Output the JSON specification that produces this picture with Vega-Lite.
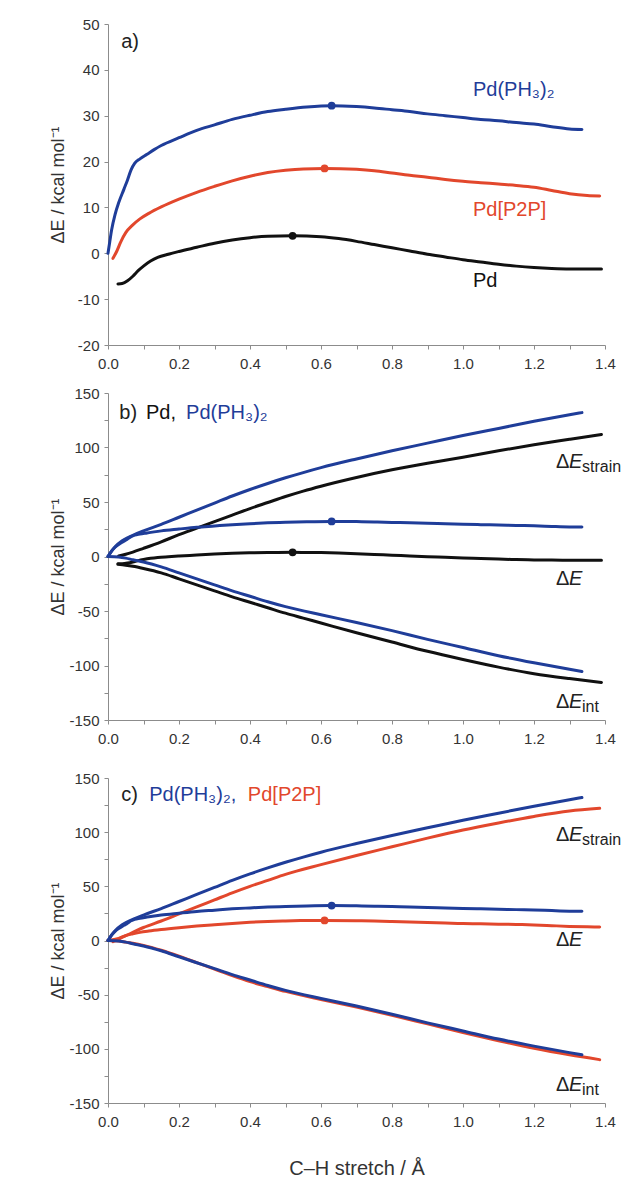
{
"$schema": "https://vega.github.io/schema/vega-lite/v6.json",
"padding": {"left": 49, "top": 17, "right": 2, "bottom": 0},
"config": {
 "view": {"stroke": null},
 "font": "Liberation Sans",
 "axis": {"grid": false, "domainColor": "#8c8c8c", "tickColor": "#8c8c8c", "tickSize": 4, "labelFontSize": 15, "labelColor": "#333333", "labelFont": "Liberation Sans", "titleFont": "Liberation Sans", "titleFontSize": 18, "titleFontWeight": "normal", "titleColor": "#333333", "labelOverlap": false},
 "axisX": {"labelPadding": 7, "labelFlush": false},
 "axisY": {"labelPadding": 5}
},
"datasets": {
 "curves": [
  {"s":"Pd","c":"dE","x":0.028,"y":-6.7},{"s":"Pd","c":"dE","x":0.04,"y":-6.6},{"s":"Pd","c":"dE","x":0.055,"y":-6.0},{"s":"Pd","c":"dE","x":0.07,"y":-5.0},{"s":"Pd","c":"dE","x":0.085,"y":-3.8},{"s":"Pd","c":"dE","x":0.1,"y":-2.8},{"s":"Pd","c":"dE","x":0.12,"y":-1.7},{"s":"Pd","c":"dE","x":0.14,"y":-0.9},{"s":"Pd","c":"dE","x":0.17,"y":-0.2},{"s":"Pd","c":"dE","x":0.2,"y":0.4},{"s":"Pd","c":"dE","x":0.25,"y":1.3},{"s":"Pd","c":"dE","x":0.3,"y":2.2},{"s":"Pd","c":"dE","x":0.35,"y":2.9},{"s":"Pd","c":"dE","x":0.4,"y":3.4},{"s":"Pd","c":"dE","x":0.45,"y":3.7},{"s":"Pd","c":"dE","x":0.52,"y":3.8},{"s":"Pd","c":"dE","x":0.6,"y":3.6},{"s":"Pd","c":"dE","x":0.65,"y":3.2},{"s":"Pd","c":"dE","x":0.7,"y":2.6},{"s":"Pd","c":"dE","x":0.75,"y":1.9},{"s":"Pd","c":"dE","x":0.8,"y":1.2},{"s":"Pd","c":"dE","x":0.85,"y":0.5},{"s":"Pd","c":"dE","x":0.9,"y":-0.2},{"s":"Pd","c":"dE","x":0.95,"y":-0.8},{"s":"Pd","c":"dE","x":1.0,"y":-1.4},{"s":"Pd","c":"dE","x":1.05,"y":-1.9},{"s":"Pd","c":"dE","x":1.1,"y":-2.4},{"s":"Pd","c":"dE","x":1.15,"y":-2.8},{"s":"Pd","c":"dE","x":1.2,"y":-3.1},{"s":"Pd","c":"dE","x":1.25,"y":-3.3},{"s":"Pd","c":"dE","x":1.3,"y":-3.4},{"s":"Pd","c":"dE","x":1.39,"y":-3.4},
  {"s":"Pd","c":"st","x":0.03,"y":0.5},{"s":"Pd","c":"st","x":0.05,"y":2},{"s":"Pd","c":"st","x":0.07,"y":4},{"s":"Pd","c":"st","x":0.1,"y":7.5},{"s":"Pd","c":"st","x":0.15,"y":13.5},{"s":"Pd","c":"st","x":0.2,"y":20},{"s":"Pd","c":"st","x":0.25,"y":26},{"s":"Pd","c":"st","x":0.3,"y":32},{"s":"Pd","c":"st","x":0.35,"y":38},{"s":"Pd","c":"st","x":0.4,"y":44},{"s":"Pd","c":"st","x":0.45,"y":49.5},{"s":"Pd","c":"st","x":0.5,"y":55},{"s":"Pd","c":"st","x":0.55,"y":60},{"s":"Pd","c":"st","x":0.6,"y":64.5},{"s":"Pd","c":"st","x":0.7,"y":72.5},{"s":"Pd","c":"st","x":0.8,"y":79.5},{"s":"Pd","c":"st","x":0.9,"y":85.5},{"s":"Pd","c":"st","x":1.0,"y":91},{"s":"Pd","c":"st","x":1.1,"y":97},{"s":"Pd","c":"st","x":1.2,"y":102.5},{"s":"Pd","c":"st","x":1.3,"y":107.5},{"s":"Pd","c":"st","x":1.39,"y":112},
  {"s":"Pd","c":"in","x":0.028,"y":-7.2},{"s":"Pd","c":"in","x":0.05,"y":-8},{"s":"Pd","c":"in","x":0.07,"y":-9},{"s":"Pd","c":"in","x":0.1,"y":-11},{"s":"Pd","c":"in","x":0.15,"y":-15},{"s":"Pd","c":"in","x":0.2,"y":-20.5},{"s":"Pd","c":"in","x":0.25,"y":-26},{"s":"Pd","c":"in","x":0.3,"y":-31.5},{"s":"Pd","c":"in","x":0.35,"y":-37},{"s":"Pd","c":"in","x":0.4,"y":-42},{"s":"Pd","c":"in","x":0.45,"y":-47},{"s":"Pd","c":"in","x":0.5,"y":-52},{"s":"Pd","c":"in","x":0.55,"y":-56.5},{"s":"Pd","c":"in","x":0.6,"y":-61},{"s":"Pd","c":"in","x":0.7,"y":-70},{"s":"Pd","c":"in","x":0.8,"y":-78.5},{"s":"Pd","c":"in","x":0.9,"y":-87},{"s":"Pd","c":"in","x":1.0,"y":-94.5},{"s":"Pd","c":"in","x":1.1,"y":-101.5},{"s":"Pd","c":"in","x":1.2,"y":-107.5},{"s":"Pd","c":"in","x":1.3,"y":-112},{"s":"Pd","c":"in","x":1.39,"y":-115.5},
  {"s":"PdP2P","c":"dE","x":0.014,"y":-1.1},{"s":"PdP2P","c":"dE","x":0.025,"y":0.5},{"s":"PdP2P","c":"dE","x":0.036,"y":2.5},{"s":"PdP2P","c":"dE","x":0.05,"y":4.5},{"s":"PdP2P","c":"dE","x":0.07,"y":6.2},{"s":"PdP2P","c":"dE","x":0.09,"y":7.5},{"s":"PdP2P","c":"dE","x":0.115,"y":8.7},{"s":"PdP2P","c":"dE","x":0.15,"y":10.1},{"s":"PdP2P","c":"dE","x":0.2,"y":11.8},{"s":"PdP2P","c":"dE","x":0.25,"y":13.3},{"s":"PdP2P","c":"dE","x":0.3,"y":14.6},{"s":"PdP2P","c":"dE","x":0.35,"y":15.8},{"s":"PdP2P","c":"dE","x":0.4,"y":16.8},{"s":"PdP2P","c":"dE","x":0.45,"y":17.6},{"s":"PdP2P","c":"dE","x":0.5,"y":18.1},{"s":"PdP2P","c":"dE","x":0.55,"y":18.4},{"s":"PdP2P","c":"dE","x":0.61,"y":18.5},{"s":"PdP2P","c":"dE","x":0.7,"y":18.3},{"s":"PdP2P","c":"dE","x":0.75,"y":18},{"s":"PdP2P","c":"dE","x":0.8,"y":17.5},{"s":"PdP2P","c":"dE","x":0.85,"y":17},{"s":"PdP2P","c":"dE","x":0.9,"y":16.6},{"s":"PdP2P","c":"dE","x":0.95,"y":16.1},{"s":"PdP2P","c":"dE","x":1.0,"y":15.7},{"s":"PdP2P","c":"dE","x":1.05,"y":15.4},{"s":"PdP2P","c":"dE","x":1.1,"y":15.1},{"s":"PdP2P","c":"dE","x":1.15,"y":14.8},{"s":"PdP2P","c":"dE","x":1.2,"y":14.4},{"s":"PdP2P","c":"dE","x":1.25,"y":13.7},{"s":"PdP2P","c":"dE","x":1.3,"y":13},{"s":"PdP2P","c":"dE","x":1.35,"y":12.6},{"s":"PdP2P","c":"dE","x":1.385,"y":12.5},
  {"s":"PdP2P","c":"st","x":0,"y":0},{"s":"PdP2P","c":"st","x":0.03,"y":2},{"s":"PdP2P","c":"st","x":0.05,"y":4.5},{"s":"PdP2P","c":"st","x":0.07,"y":7.5},{"s":"PdP2P","c":"st","x":0.1,"y":12},{"s":"PdP2P","c":"st","x":0.15,"y":18},{"s":"PdP2P","c":"st","x":0.2,"y":24.5},{"s":"PdP2P","c":"st","x":0.25,"y":31},{"s":"PdP2P","c":"st","x":0.3,"y":37.5},{"s":"PdP2P","c":"st","x":0.35,"y":44},{"s":"PdP2P","c":"st","x":0.4,"y":50},{"s":"PdP2P","c":"st","x":0.45,"y":55.5},{"s":"PdP2P","c":"st","x":0.5,"y":61},{"s":"PdP2P","c":"st","x":0.6,"y":70},{"s":"PdP2P","c":"st","x":0.7,"y":78.5},{"s":"PdP2P","c":"st","x":0.8,"y":86.5},{"s":"PdP2P","c":"st","x":0.9,"y":94.5},{"s":"PdP2P","c":"st","x":1.0,"y":102},{"s":"PdP2P","c":"st","x":1.1,"y":108.5},{"s":"PdP2P","c":"st","x":1.2,"y":114.5},{"s":"PdP2P","c":"st","x":1.3,"y":119.5},{"s":"PdP2P","c":"st","x":1.385,"y":122},
  {"s":"PdP2P","c":"in","x":0,"y":0},{"s":"PdP2P","c":"in","x":0.03,"y":-0.5},{"s":"PdP2P","c":"in","x":0.05,"y":-1.5},{"s":"PdP2P","c":"in","x":0.07,"y":-2.5},{"s":"PdP2P","c":"in","x":0.1,"y":-4.5},{"s":"PdP2P","c":"in","x":0.15,"y":-9},{"s":"PdP2P","c":"in","x":0.2,"y":-14.5},{"s":"PdP2P","c":"in","x":0.25,"y":-20.5},{"s":"PdP2P","c":"in","x":0.3,"y":-26.5},{"s":"PdP2P","c":"in","x":0.35,"y":-32.5},{"s":"PdP2P","c":"in","x":0.4,"y":-38},{"s":"PdP2P","c":"in","x":0.45,"y":-42.5},{"s":"PdP2P","c":"in","x":0.5,"y":-47},{"s":"PdP2P","c":"in","x":0.6,"y":-54.5},{"s":"PdP2P","c":"in","x":0.7,"y":-61.5},{"s":"PdP2P","c":"in","x":0.8,"y":-69},{"s":"PdP2P","c":"in","x":0.9,"y":-77},{"s":"PdP2P","c":"in","x":1.0,"y":-85},{"s":"PdP2P","c":"in","x":1.1,"y":-92.5},{"s":"PdP2P","c":"in","x":1.2,"y":-99.5},{"s":"PdP2P","c":"in","x":1.3,"y":-105.5},{"s":"PdP2P","c":"in","x":1.385,"y":-110},
  {"s":"PdPH3","c":"dE","x":0,"y":0},{"s":"PdPH3","c":"dE","x":0.005,"y":2.5},{"s":"PdPH3","c":"dE","x":0.01,"y":5},{"s":"PdPH3","c":"dE","x":0.02,"y":8.5},{"s":"PdPH3","c":"dE","x":0.03,"y":11},{"s":"PdPH3","c":"dE","x":0.045,"y":14},{"s":"PdPH3","c":"dE","x":0.055,"y":16},{"s":"PdPH3","c":"dE","x":0.065,"y":18.2},{"s":"PdPH3","c":"dE","x":0.075,"y":19.6},{"s":"PdPH3","c":"dE","x":0.09,"y":20.6},{"s":"PdPH3","c":"dE","x":0.11,"y":21.6},{"s":"PdPH3","c":"dE","x":0.13,"y":22.6},{"s":"PdPH3","c":"dE","x":0.15,"y":23.5},{"s":"PdPH3","c":"dE","x":0.2,"y":25.2},{"s":"PdPH3","c":"dE","x":0.25,"y":26.8},{"s":"PdPH3","c":"dE","x":0.3,"y":28},{"s":"PdPH3","c":"dE","x":0.35,"y":29.2},{"s":"PdPH3","c":"dE","x":0.4,"y":30.1},{"s":"PdPH3","c":"dE","x":0.45,"y":30.9},{"s":"PdPH3","c":"dE","x":0.5,"y":31.4},{"s":"PdPH3","c":"dE","x":0.56,"y":31.9},{"s":"PdPH3","c":"dE","x":0.63,"y":32.2},{"s":"PdPH3","c":"dE","x":0.7,"y":32},{"s":"PdPH3","c":"dE","x":0.75,"y":31.7},{"s":"PdPH3","c":"dE","x":0.8,"y":31.3},{"s":"PdPH3","c":"dE","x":0.85,"y":30.9},{"s":"PdPH3","c":"dE","x":0.9,"y":30.4},{"s":"PdPH3","c":"dE","x":0.95,"y":30},{"s":"PdPH3","c":"dE","x":1.0,"y":29.6},{"s":"PdPH3","c":"dE","x":1.05,"y":29.2},{"s":"PdPH3","c":"dE","x":1.1,"y":28.9},{"s":"PdPH3","c":"dE","x":1.15,"y":28.5},{"s":"PdPH3","c":"dE","x":1.2,"y":28.2},{"s":"PdPH3","c":"dE","x":1.25,"y":27.6},{"s":"PdPH3","c":"dE","x":1.3,"y":27.1},{"s":"PdPH3","c":"dE","x":1.335,"y":27},
  {"s":"PdPH3","c":"st","x":0,"y":0},{"s":"PdPH3","c":"st","x":0.01,"y":5},{"s":"PdPH3","c":"st","x":0.02,"y":9},{"s":"PdPH3","c":"st","x":0.04,"y":14.5},{"s":"PdPH3","c":"st","x":0.07,"y":19.5},{"s":"PdPH3","c":"st","x":0.1,"y":23.5},{"s":"PdPH3","c":"st","x":0.15,"y":29.5},{"s":"PdPH3","c":"st","x":0.2,"y":36},{"s":"PdPH3","c":"st","x":0.25,"y":42.5},{"s":"PdPH3","c":"st","x":0.3,"y":49},{"s":"PdPH3","c":"st","x":0.35,"y":55.5},{"s":"PdPH3","c":"st","x":0.4,"y":61.5},{"s":"PdPH3","c":"st","x":0.45,"y":67},{"s":"PdPH3","c":"st","x":0.5,"y":72.2},{"s":"PdPH3","c":"st","x":0.55,"y":77},{"s":"PdPH3","c":"st","x":0.6,"y":81.5},{"s":"PdPH3","c":"st","x":0.7,"y":89.5},{"s":"PdPH3","c":"st","x":0.8,"y":97},{"s":"PdPH3","c":"st","x":0.9,"y":104},{"s":"PdPH3","c":"st","x":1.0,"y":111},{"s":"PdPH3","c":"st","x":1.1,"y":117.5},{"s":"PdPH3","c":"st","x":1.2,"y":124},{"s":"PdPH3","c":"st","x":1.3,"y":130},{"s":"PdPH3","c":"st","x":1.335,"y":132},
  {"s":"PdPH3","c":"in","x":0,"y":0},{"s":"PdPH3","c":"in","x":0.03,"y":-0.5},{"s":"PdPH3","c":"in","x":0.05,"y":-1.5},{"s":"PdPH3","c":"in","x":0.07,"y":-3},{"s":"PdPH3","c":"in","x":0.1,"y":-5},{"s":"PdPH3","c":"in","x":0.15,"y":-9.5},{"s":"PdPH3","c":"in","x":0.2,"y":-15},{"s":"PdPH3","c":"in","x":0.25,"y":-20.5},{"s":"PdPH3","c":"in","x":0.3,"y":-26},{"s":"PdPH3","c":"in","x":0.35,"y":-31.5},{"s":"PdPH3","c":"in","x":0.4,"y":-36.5},{"s":"PdPH3","c":"in","x":0.45,"y":-41.5},{"s":"PdPH3","c":"in","x":0.5,"y":-46},{"s":"PdPH3","c":"in","x":0.6,"y":-53.5},{"s":"PdPH3","c":"in","x":0.7,"y":-60.5},{"s":"PdPH3","c":"in","x":0.8,"y":-68},{"s":"PdPH3","c":"in","x":0.9,"y":-76},{"s":"PdPH3","c":"in","x":1.0,"y":-83.5},{"s":"PdPH3","c":"in","x":1.1,"y":-91},{"s":"PdPH3","c":"in","x":1.2,"y":-97.5},{"s":"PdPH3","c":"in","x":1.3,"y":-103.5},{"s":"PdPH3","c":"in","x":1.335,"y":-105.5}
 ],
 "peaks": [
  {"s":"Pd","x":0.52,"y":3.8},{"s":"PdP2P","x":0.61,"y":18.5},{"s":"PdPH3","x":0.63,"y":32.2}
 ],
 "labels": [
  {"p":"a","x":0.037,"y":44.7,"t":"a)","s":"tag"},
  {"p":"a","x":1.028,"y":34.4,"t":"Pd(PH₃)₂","s":"PdPH3"},
  {"p":"a","x":1.028,"y":8.2,"t":"Pd[P2P]","s":"PdP2P"},
  {"p":"a","x":1.028,"y":-7.4,"t":"Pd","s":"Pd"},
  {"p":"b","x":0.032,"y":126.4,"t":"b)","s":"tag"},
  {"p":"b","x":0.107,"y":126.4,"t":"Pd,","s":"Pd"},
  {"p":"b","x":0.22,"y":126.4,"t":"Pd(PH₃)₂","s":"PdPH3"},
  {"p":"c","x":0.037,"y":128.5,"t":"c)","s":"tag"},
  {"p":"c","x":0.116,"y":128.5,"t":"Pd(PH₃)₂,","s":"PdPH3"},
  {"p":"c","x":0.394,"y":128.5,"t":"Pd[P2P]","s":"PdP2P"}
 ],
 "elabels": [
  {"p":"b","x":1.262,"y":81.1,"sub":"strain"},
  {"p":"b","x":1.262,"y":-26.3,"sub":""},
  {"p":"b","x":1.262,"y":-139.3,"sub":"int"},
  {"p":"c","x":1.262,"y":91.6,"sub":"strain"},
  {"p":"c","x":1.262,"y":-5.4,"sub":""},
  {"p":"c","x":1.262,"y":-139.2,"sub":"int"}
 ]
},
"spacing": 25,
"vconcat": [
 {
  "spacing": 15,
  "vconcat": [
   {
    "width": 497, "height": 321,
    "encoding": {
     "x": {"field": "x", "type": "quantitative", "scale": {"domain": [0, 1.4], "nice": false, "zero": false},
           "axis": {"title": null, "values": [0,0.1,0.2,0.3,0.4,0.5,0.6,0.7,0.8,0.9,1.0,1.1,1.2,1.3,1.4], "labelExpr": "round(datum.value*10) % 2 === 0 ? format(datum.value, '.1f') : ''"}},
     "y": {"field": "y", "type": "quantitative", "scale": {"domain": [-20, 50], "nice": false, "zero": false},
           "axis": {"title": "ΔE / kcal mol⁻¹", "titleX": -41, "values": [-20,-10,0,10,20,30,40,50], "labelExpr": "'' + datum.value"}}
    },
    "layer": [
     {"data": {"name": "curves"}, "transform": [{"filter": "datum.c === 'dE'"}],
      "mark": {"type": "line", "strokeWidth": 3, "interpolate": "monotone", "strokeCap": "round"},
      "encoding": {"color": {"field": "s", "type": "nominal", "legend": null, "scale": {"domain": ["Pd","PdP2P","PdPH3","tag"], "range": ["#111111","#e2472c","#1f3d99","#222222"]}}, "detail": {"field": "c"}}},
     {"data": {"name": "peaks"},
      "mark": {"type": "point", "filled": true, "size": 60, "opacity": 1},
      "encoding": {"color": {"field": "s", "type": "nominal", "legend": null}}},
     {"data": {"name": "labels"}, "transform": [{"filter": "datum.p === 'a'"}],
      "mark": {"type": "text", "align": "left", "baseline": "alphabetic", "fontSize": 20, "font": "Liberation Sans"},
      "encoding": {"text": {"field": "t"}, "color": {"field": "s", "type": "nominal", "legend": null}}}
    ]
   },
   {
    "width": 497, "height": 327,
    "encoding": {
     "x": {"field": "x", "type": "quantitative", "scale": {"domain": [0, 1.4], "nice": false, "zero": false},
           "axis": {"title": null, "values": [0,0.1,0.2,0.3,0.4,0.5,0.6,0.7,0.8,0.9,1.0,1.1,1.2,1.3,1.4], "labelExpr": "round(datum.value*10) % 2 === 0 ? format(datum.value, '.1f') : ''"}},
     "y": {"field": "y", "type": "quantitative", "scale": {"domain": [-150, 150], "nice": false, "zero": false},
           "axis": {"title": "ΔE / kcal mol⁻¹", "titleX": -41, "values": [-150,-125,-100,-75,-50,-25,0,25,50,75,100,125,150], "labelExpr": "datum.value % 50 === 0 ? '' + datum.value : ''"}}
    },
    "layer": [
     {"data": {"name": "curves"}, "transform": [{"filter": "datum.s !== 'PdP2P'"}],
      "mark": {"type": "line", "strokeWidth": 3, "interpolate": "monotone", "strokeCap": "round"},
      "encoding": {"color": {"field": "s", "type": "nominal", "legend": null, "scale": {"domain": ["Pd","PdP2P","PdPH3","tag"], "range": ["#111111","#e2472c","#1f3d99","#222222"]}}, "detail": {"field": "c"}}},
     {"data": {"name": "peaks"}, "transform": [{"filter": "datum.s !== 'PdP2P'"}],
      "mark": {"type": "point", "filled": true, "size": 60, "opacity": 1},
      "encoding": {"color": {"field": "s", "type": "nominal", "legend": null}}},
     {"data": {"name": "labels"}, "transform": [{"filter": "datum.p === 'b'"}],
      "mark": {"type": "text", "align": "left", "baseline": "alphabetic", "fontSize": 20, "font": "Liberation Sans"},
      "encoding": {"text": {"field": "t"}, "color": {"field": "s", "type": "nominal", "legend": null}}},
     {"data": {"name": "elabels"}, "transform": [{"filter": "datum.p === 'b'"}],
      "mark": {"type": "text", "text": "Δ", "align": "left", "baseline": "alphabetic", "fontSize": 20, "font": "Liberation Sans", "color": "#222222"}},
     {"data": {"name": "elabels"}, "transform": [{"filter": "datum.p === 'b'"}],
      "mark": {"type": "text", "text": "E", "dx": 13, "fontStyle": "italic", "align": "left", "baseline": "alphabetic", "fontSize": 20, "font": "Liberation Sans", "color": "#222222"}},
     {"data": {"name": "elabels"}, "transform": [{"filter": "datum.p === 'b'"}],
      "mark": {"type": "text", "dx": 26, "dy": 4, "align": "left", "baseline": "alphabetic", "fontSize": 16, "font": "Liberation Sans", "color": "#222222"},
      "encoding": {"text": {"field": "sub"}}}
    ]
   }
  ]
 },
 {
  "width": 497, "height": 325,
  "encoding": {
   "x": {"field": "x", "type": "quantitative", "scale": {"domain": [0, 1.4], "nice": false, "zero": false},
         "axis": {"title": "C–H stretch / Å", "titleFontSize": 20, "titlePadding": 29, "values": [0,0.1,0.2,0.3,0.4,0.5,0.6,0.7,0.8,0.9,1.0,1.1,1.2,1.3,1.4], "labelExpr": "round(datum.value*10) % 2 === 0 ? format(datum.value, '.1f') : ''"}},
   "y": {"field": "y", "type": "quantitative", "scale": {"domain": [-150, 150], "nice": false, "zero": false},
         "axis": {"title": "ΔE / kcal mol⁻¹", "titleX": -41, "values": [-150,-125,-100,-75,-50,-25,0,25,50,75,100,125,150], "labelExpr": "datum.value % 50 === 0 ? '' + datum.value : ''"}}
  },
  "layer": [
   {"data": {"name": "curves"}, "transform": [{"filter": "datum.s !== 'Pd'"}],
    "mark": {"type": "line", "strokeWidth": 3, "interpolate": "monotone", "strokeCap": "round"},
    "encoding": {"color": {"field": "s", "type": "nominal", "legend": null, "scale": {"domain": ["Pd","PdP2P","PdPH3","tag"], "range": ["#111111","#e2472c","#1f3d99","#222222"]}}, "detail": {"field": "c"}}},
   {"data": {"name": "peaks"}, "transform": [{"filter": "datum.s !== 'Pd'"}],
    "mark": {"type": "point", "filled": true, "size": 60, "opacity": 1},
    "encoding": {"color": {"field": "s", "type": "nominal", "legend": null}}},
   {"data": {"name": "labels"}, "transform": [{"filter": "datum.p === 'c'"}],
    "mark": {"type": "text", "align": "left", "baseline": "alphabetic", "fontSize": 20, "font": "Liberation Sans"},
    "encoding": {"text": {"field": "t"}, "color": {"field": "s", "type": "nominal", "legend": null}}},
   {"data": {"name": "elabels"}, "transform": [{"filter": "datum.p === 'c'"}],
    "mark": {"type": "text", "text": "Δ", "align": "left", "baseline": "alphabetic", "fontSize": 20, "font": "Liberation Sans", "color": "#222222"}},
   {"data": {"name": "elabels"}, "transform": [{"filter": "datum.p === 'c'"}],
    "mark": {"type": "text", "text": "E", "dx": 13, "fontStyle": "italic", "align": "left", "baseline": "alphabetic", "fontSize": 20, "font": "Liberation Sans", "color": "#222222"}},
   {"data": {"name": "elabels"}, "transform": [{"filter": "datum.p === 'c'"}],
    "mark": {"type": "text", "dx": 26, "dy": 4, "align": "left", "baseline": "alphabetic", "fontSize": 16, "font": "Liberation Sans", "color": "#222222"},
    "encoding": {"text": {"field": "sub"}}}
  ]
 }
]
}
